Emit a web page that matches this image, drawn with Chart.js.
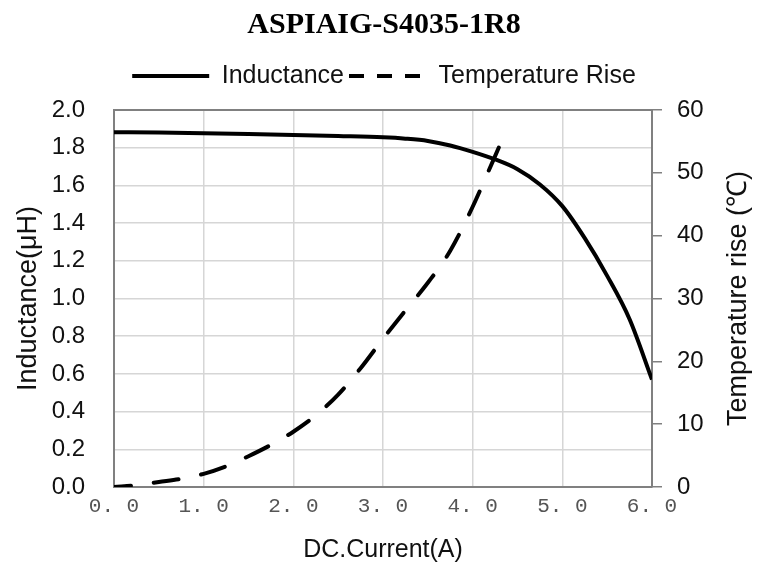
<!DOCTYPE html>
<html>
<head>
<meta charset="utf-8">
<script src="https://cdn.jsdelivr.net/npm/chart.js@4/dist/chart.umd.min.js"></script>
<style>
  html, body { margin: 0; padding: 0; background: #fff; }
  #wrap { width: 768px; height: 571px; }
</style>
</head>
<body>
<div id="wrap"><canvas id="c" width="768" height="571"></canvas></div>
<script>
// ---- data ----
const chartTitle = 'ASPIAIG-S4035-1R8';
const currentL = [0, 0.5, 1, 1.5, 2, 2.5, 3, 3.25, 3.5, 3.75, 4, 4.25, 4.5, 4.75, 5, 5.25, 5.5, 5.75, 6];
const inductance = [1.882, 1.880, 1.877, 1.873, 1.868, 1.862, 1.855, 1.848, 1.836, 1.812, 1.778, 1.738, 1.686, 1.605, 1.49, 1.32, 1.12, 0.89, 0.57];
const currentT = [0, 0.25, 0.5, 0.75, 1, 1.25, 1.5, 1.75, 2, 2.25, 2.5, 2.75, 3, 3.25, 3.5, 3.75, 4, 4.15, 4.3];
const tempRise = [0, 0.3, 0.8, 1.3, 2.1, 3.3, 4.9, 6.7, 8.8, 11.4, 14.7, 18.9, 23.6, 28.1, 32.5, 37.6, 44.6, 49.4, 54.3];
const xTickLabels = ['0. 0', '1. 0', '2. 0', '3. 0', '4. 0', '5. 0', '6. 0'];
const seriesNames = ['Inductance', 'Temperature Rise'];
const leftAxisTitle = 'Inductance(\u03bcH)';
const rightAxisTitle = 'Temperature rise (\u2103)';
const xAxisTitle = 'DC.Current(A)';

const SANS = "'Liberation Sans', Arial, sans-serif";
const AXIS = '#808080';
const GRID = '#d6d6d6';

const rightTitlePlugin = {
  id: 'rightTitle',
  afterDraw(chart) {
    const s = chart.scales.yT;
    const ctx = chart.ctx;
    ctx.save();
    ctx.translate(s.right - 29, (s.top + s.bottom) / 2);
    ctx.rotate(-Math.PI / 2);
    ctx.font = '27px ' + SANS;
    ctx.fillStyle = '#111';
    ctx.textAlign = 'center';
    ctx.textBaseline = 'middle';
    ctx.fillText(rightAxisTitle, 0, 0);
    ctx.restore();
  }
};

new Chart(document.getElementById('c'), {
  type: 'line',
  data: {
    datasets: [
      {
        label: seriesNames[0],
        data: currentL.map((x, i) => ({ x, y: inductance[i] })),
        yAxisID: 'yL',
        borderColor: '#000',
        borderWidth: 4,
        pointRadius: 0,
        cubicInterpolationMode: 'monotone',
        fill: false
      },
      {
        label: seriesNames[1],
        data: currentT.map((x, i) => ({ x, y: tempRise[i] })),
        yAxisID: 'yT',
        borderColor: '#000',
        borderWidth: 4,
        borderDash: [25, 23],
        borderDashOffset: 8,
        borderCapStyle: 'round',
        pointRadius: 0,
        cubicInterpolationMode: 'monotone',
        fill: false
      }
    ]
  },
  plugins: [rightTitlePlugin],
  options: {
    responsive: false,
    animation: false,
    layout: { padding: 0 },
    plugins: {
      title: {
        display: true,
        text: chartTitle,
        color: '#000',
        font: { family: "'Liberation Serif', 'Times New Roman', serif", size: 30, weight: 'bold' },
        padding: { top: 7, bottom: 15.5 }
      },
      legend: {
        display: true,
        position: 'top',
        labels: {
          color: '#111',
          font: { family: SANS, size: 25 },
          usePointStyle: true,
          pointStyle: 'line',
          pointStyleWidth: 77,
          padding: 5,
          generateLabels(chart) {
            const items = Chart.defaults.plugins.legend.labels.generateLabels(chart);
            items.forEach((it, i) => {
              it.pointStyle = 'line';
              it.lineWidth = 4;
              it.lineDash = i === 1 ? [15, 13] : [];
              it.lineDashOffset = 0;
              it.lineCap = 'butt';
            });
            return items;
          }
        }
      },
      tooltip: { enabled: false }
    },
    scales: {
      x: {
        type: 'linear',
        position: 'bottom',
        min: 0, max: 6,
        afterFit(s) { s.height = 84; },
        afterBuildTicks(s) { s.ticks = xTickLabels.map((_, i) => ({ value: i })); },
        ticks: {
          stepSize: 1,
          padding: 7,
          color: '#555',
          font: { family: "'Liberation Mono', 'DejaVu Sans Mono', monospace", size: 21 },
          callback: (v) => xTickLabels[v]
        },
        grid: { color: GRID, lineWidth: 1.5, drawTicks: false },
        border: { color: AXIS, width: 2 },
        title: {
          display: true,
          text: xAxisTitle,
          color: '#111',
          font: { family: SANS, size: 25 },
          padding: { top: 0, bottom: 6 }
        }
      },
      xTop: {
        type: 'linear',
        position: 'top',
        min: 0, max: 6,
        afterFit(s) { s.height = 11.5; },
        ticks: { display: false },
        grid: { display: true, drawOnChartArea: false, drawTicks: false },
        border: { color: AXIS, width: 2 }
      },
      yL: {
        type: 'linear',
        position: 'left',
        min: 0, max: 2,
        afterFit(s) { s.width = 114; },
        ticks: {
          stepSize: 0.2,
          padding: 29,
          color: '#111',
          font: { family: SANS, size: 24 },
          callback: (v) => v.toFixed(1)
        },
        grid: { color: GRID, lineWidth: 1.5, drawTicks: false },
        border: { color: AXIS, width: 2 },
        title: {
          display: true,
          text: leftAxisTitle,
          color: '#111',
          font: { family: SANS, size: 27 },
          padding: { top: 12, bottom: 0 }
        }
      },
      yT: {
        type: 'linear',
        position: 'right',
        min: 0, max: 60,
        afterFit(s) { s.width = 116; },
        ticks: {
          stepSize: 10,
          padding: 15,
          color: '#111',
          font: { family: SANS, size: 24 }
        },
        grid: { drawOnChartArea: false, drawTicks: true, tickLength: 10, color: AXIS, lineWidth: 1.5 },
        border: { color: AXIS, width: 2 }
      }
    }
  }
});
</script>
</body>
</html>
